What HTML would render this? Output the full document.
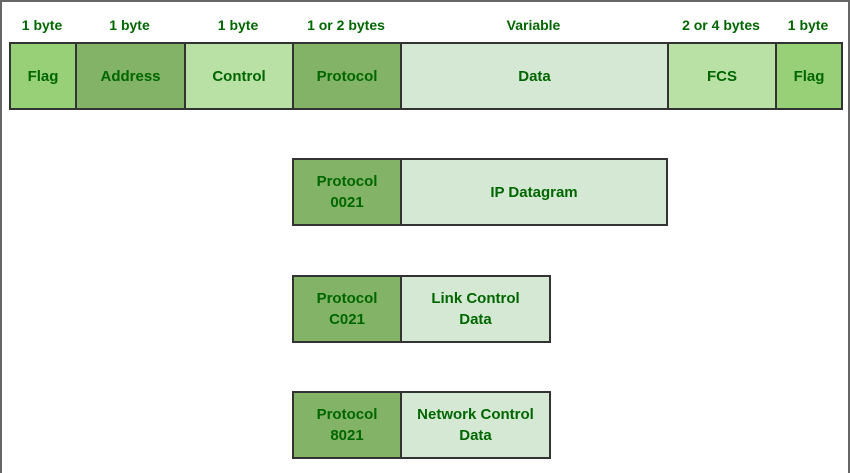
<!DOCTYPE html>
<html style="margin:0;width:850px;height:473px;overflow:hidden"><head><style>
body{margin:0;width:850px;height:473px;overflow:hidden;background:#fff;font-family:"Liberation Sans",Arial,sans-serif;position:relative;}
.frame{position:absolute;left:0;top:0;width:846px;height:471px;border:2px solid #666;border-bottom:0;}
.b{position:absolute;box-sizing:border-box;border:2px solid #333;display:flex;align-items:center;justify-content:center;text-align:center;color:#006600;font-weight:bold;font-size:15px;line-height:21px;}
.l{position:absolute;top:17px;color:#006600;font-weight:bold;font-size:14px;text-align:center;}
</style></head><body>
<div class="frame"></div>
<div class="l" style="left:9px;width:66px">1 byte</div>
<div class="l" style="left:75px;width:109px">1 byte</div>
<div class="l" style="left:184px;width:108px">1 byte</div>
<div class="l" style="left:292px;width:108px">1 or 2 bytes</div>
<div class="l" style="left:400px;width:267px">Variable</div>
<div class="l" style="left:667px;width:108px">2 or 4 bytes</div>
<div class="l" style="left:775px;width:66px">1 byte</div>

<div class="b" style="left:9px;top:42px;width:68px;height:68px;background:#97d077">Flag</div>
<div class="b" style="left:75px;top:42px;width:111px;height:68px;background:#82b366">Address</div>
<div class="b" style="left:184px;top:42px;width:110px;height:68px;background:#b9e0a5">Control</div>
<div class="b" style="left:292px;top:42px;width:110px;height:68px;background:#82b366">Protocol</div>
<div class="b" style="left:400px;top:42px;width:269px;height:68px;background:#d5e8d4">Data</div>
<div class="b" style="left:667px;top:42px;width:110px;height:68px;background:#b9e0a5">FCS</div>
<div class="b" style="left:775px;top:42px;width:68px;height:68px;background:#97d077">Flag</div>

<div class="b" style="left:292px;top:158px;width:110px;height:68px;background:#82b366">Protocol<br>0021</div>
<div class="b" style="left:400px;top:158px;width:268px;height:68px;background:#d5e8d4">IP Datagram</div>

<div class="b" style="left:292px;top:275px;width:110px;height:68px;background:#82b366">Protocol<br>C021</div>
<div class="b" style="left:400px;top:275px;width:151px;height:68px;background:#d5e8d4">Link Control<br>Data</div>

<div class="b" style="left:292px;top:391px;width:110px;height:68px;background:#82b366">Protocol<br>8021</div>
<div class="b" style="left:400px;top:391px;width:151px;height:68px;background:#d5e8d4">Network Control<br>Data</div>
</body></html>
